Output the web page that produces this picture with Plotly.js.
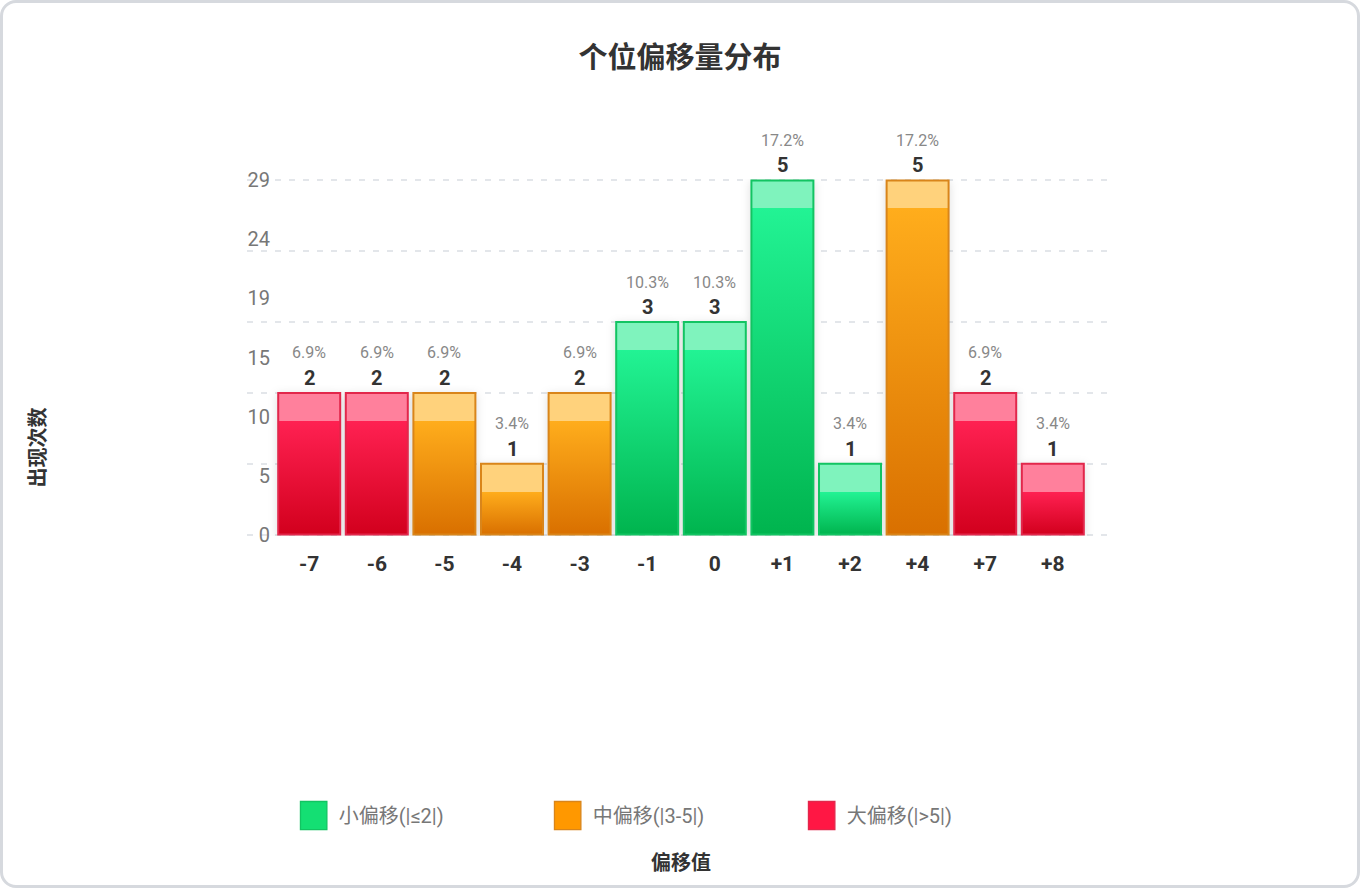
<!DOCTYPE html>
<html>
<head>
<meta charset="utf-8">
<script src="https://cdn.plot.ly/plotly-3.0.1.min.js"></script>
<style>
html, body { margin: 0; padding: 0; background: #fff; }
#wrap { position: relative; width: 1360px; height: 888px; overflow: hidden; }
#chart { position: absolute; left: 0; top: 0; width: 1360px; height: 888px; }
#frame { position: absolute; left: 0; top: 0; width: 1360px; height: 888px; box-sizing: border-box;
	border: 3px solid #d6d9de; border-radius: 16px; pointer-events: none; }
#chart .barlayer { filter: drop-shadow(0 2px 5px rgba(0, 0, 0, 0.13)); }
</style>
</head>
<body>
<div id="wrap">
	<div id="chart"></div>
	<div id="frame"></div>
</div>
<script>
// data
const offsets = ["-7", "-6", "-5", "-4", "-3", "-1", "0", "+1", "+2", "+4", "+7", "+8"]
const counts = [2, 2, 2, 1, 2, 3, 3, 5, 1, 5, 2, 1]
const yTickLabels = ["0", "5", "10", "15", "19", "24", "29"]
const groupNames = ["小偏移(|≤2|)", "中偏移(|3-5|)", "大偏移(|>5|)"]

// style per group: flat colour (legend), gradient top / bottom, top band, outline
const groupColors = ["#14df73", "#ff9800", "#ff1744"]
const gradTop = ["#22f394", "#ffad1c", "#ff2152"]
const gradBottom = ["#00b44e", "#d97000", "#d2001d"]
const bandColors = ["#7ff3bd", "#ffd27c", "#ff809c"]
const lineColors = ["#12c462", "#d9851a", "#e2274b"]

const FONT = "Roboto, 'Noto Sans CJK SC', sans-serif"

function groupOf(label) {
	const a = Math.abs(Number(label))
	if (a <= 2) return 0
	if (a <= 5) return 1
	return 2
}

const total = counts.reduce((s, v) => s + v, 0)
const maxCount = Math.max(...counts)

var traces = []
for (var g = 0; g < 3; ++g)
{
	var xs = [], ys = []
	for (var i = 0; i < offsets.length; ++i)
	{
		if (groupOf(offsets[i]) === g)
		{
			xs.push(offsets[i])
			ys.push(counts[i])
		}
	}
	traces.push({
		type: "bar",
		name: groupNames[g],
		x: xs,
		y: ys,
		marker: { color: groupColors[g], line: { color: lineColors[g], width: 2 } },
		hoverinfo: "x+y"
	})
}

// empty trace so the label axis gets drawn
traces.push({
	type: "scatter", mode: "markers", x: [offsets[0]], y: [null],
	yaxis: "y2", showlegend: false, hoverinfo: "skip"
})

// value labels; x is the category index (labels like "+1" would be read as numbers)
var annotations = []
for (var i = 0; i < offsets.length; ++i)
{
	annotations.push({
		x: i, y: counts[i], xref: "x", yref: "y",
		text: String(counts[i]), showarrow: false, yshift: 15, yanchor: "middle",
		font: { family: FONT, size: 20, color: "#333", weight: 700 }
	})
	annotations.push({
		x: i, y: counts[i], xref: "x", yref: "y",
		text: (counts[i] / total * 100).toFixed(1) + "%", showarrow: false, yshift: 40, yanchor: "middle",
		font: { family: FONT, size: 16, color: "#888" }
	})
}

// axis titles
annotations.push({
	xref: "paper", yref: "paper", x: -0.2408, y: 0.248, xanchor: "center", yanchor: "middle",
	textangle: -90, showarrow: false,
	text: "出现次数", font: { family: FONT, size: 20, color: "#333", weight: 700 }
})
annotations.push({
	xref: "paper", yref: "paper", x: 0.5, y: -0.9155, xanchor: "center", yanchor: "middle",
	showarrow: false,
	text: "偏移值", font: { family: FONT, size: 20, color: "#333", weight: 700 }
})

var labelPos = yTickLabels.map((_, k) => k * maxCount / (yTickLabels.length - 1))
var gridPos = Array.from({ length: maxCount + 1 }, (_, k) => k)
var yRange = [-0.02, maxCount + 0.02]

var layout = {
	width: 1360,
	height: 888,
	margin: { l: 247, r: 245, t: 179, b: 352, pad: 0 },
	paper_bgcolor: "#fff",
	plot_bgcolor: "#fff",
	font: { family: FONT },
	title: {
		text: "个位偏移量分布",
		x: 0.5, xref: "container", y: 1 - 58 / 888, yref: "container", yanchor: "middle",
		font: { family: FONT, size: 29, color: "#333", weight: 700 }
	},
	barmode: "overlay",
	bargap: 0.083,
	xaxis: {
		type: "category",
		categoryorder: "array",
		categoryarray: offsets,
		range: [-0.92, 11.92],
		showgrid: false,
		zeroline: false,
		showline: false,
		ticks: "",
		ticklabelstandoff: 13,
		tickfont: { family: FONT, size: 21, color: "#333", weight: 700 },
		fixedrange: true
	},
	yaxis: {
		range: yRange,
		tickmode: "array",
		tickvals: gridPos,
		showticklabels: false,
		showgrid: true,
		gridcolor: "#e3e6ea",
		gridwidth: 1.5,
		griddash: "6px,8px",
		zeroline: false,
		ticks: "",
		fixedrange: true
	},
	yaxis2: {
		overlaying: "y",
		side: "left",
		range: yRange,
		tickmode: "array",
		tickvals: labelPos,
		ticktext: yTickLabels,
		showgrid: false,
		zeroline: false,
		ticks: "",
		ticklabelstandoff: -24,
		tickfont: { family: FONT, size: 20, color: "#777" },
		fixedrange: true
	},
	showlegend: true,
	legend: {
		orientation: "h",
		x: 0.048, xanchor: "left",
		y: -0.783, yanchor: "middle",
		entrywidth: 199,
		entrywidthmode: "pixels",
		itemwidth: 40,
		font: { family: FONT, size: 20, color: "#777" },
		itemclick: false,
		itemdoubleclick: false
	},
	annotations: annotations
}

var config = {
	displayModeBar: false
}

// gradient fill with a light band at the top of every bar
function paintBars(gd)
{
	var ns = "http://www.w3.org/2000/svg"
	var svg = gd.querySelector(".main-svg")
	var defs = svg.querySelector("defs") || svg.insertBefore(document.createElementNS(ns, "defs"), svg.firstChild)

	gd.querySelectorAll(".barlayer .trace").forEach(function (tr, ti) {
		tr.querySelectorAll(".point path").forEach(function (p, pi) {
			var bb = p.getBBox()
			if (!bb.height) return
			var f = Math.min(28 / bb.height, 0.5)
			var grad = document.createElementNS(ns, "linearGradient")
			var id = "bargrad" + ti + "_" + pi
			grad.setAttribute("id", id)
			grad.setAttribute("gradientUnits", "userSpaceOnUse")
			grad.setAttribute("x1", 0)
			grad.setAttribute("x2", 0)
			grad.setAttribute("y1", bb.y)
			grad.setAttribute("y2", bb.y + bb.height)
			var stops = [[0, bandColors[ti]], [f, bandColors[ti]], [f, gradTop[ti]], [1, gradBottom[ti]]]
			for (var s of stops)
			{
				var st = document.createElementNS(ns, "stop")
				st.setAttribute("offset", s[0])
				st.setAttribute("stop-color", s[1])
				grad.appendChild(st)
			}
			defs.appendChild(grad)
			p.style.fill = "url(#" + id + ")"
		})
	})

	// bigger legend squares
	gd.querySelectorAll(".legend .legendpoints path").forEach(function (p) {
		var t = p.getAttribute("transform") || ""
		p.setAttribute("transform", t + " scale(2.2,2.35)")
		p.style.strokeWidth = "0.6px"
	})
}

Plotly.newPlot("chart", traces, layout, config).then(paintBars)
</script>
</body>
</html>
